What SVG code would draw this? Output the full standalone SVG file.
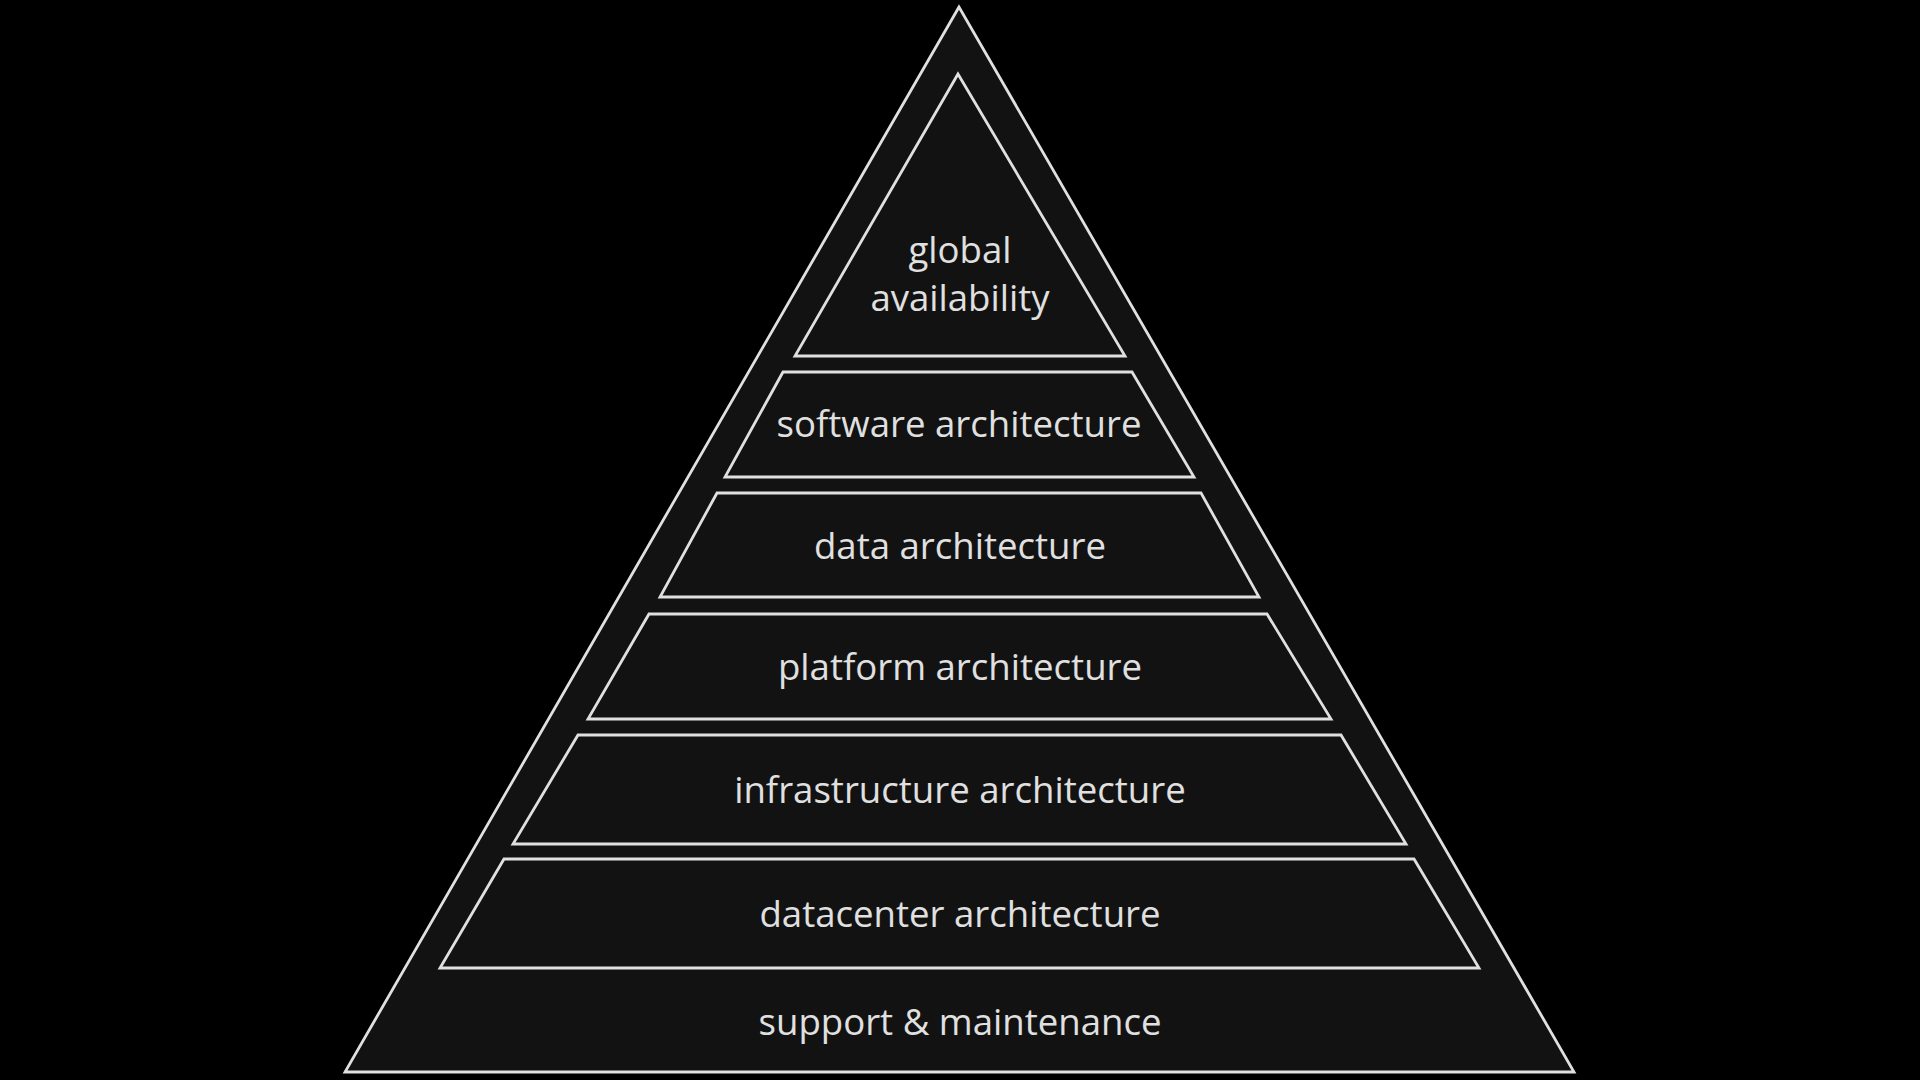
<svg xmlns="http://www.w3.org/2000/svg" width="1920" height="1080" viewBox="0 0 1920 1080">
<style>
.shape{fill:#121212;stroke:#e0e0e0;stroke-width:2.8;stroke-linejoin:miter}
.lbl{font-family:"Open Sans","Noto Sans",sans-serif;font-size:36.6px;fill:#e0e0e0;text-anchor:middle}
</style>
<rect width="1920" height="1080" fill="#000"/>
<g id="pyramid">
<polygon class="shape" points="959,7 345,1072 1574,1072"/>
</g>
<g id="connectors"/>
<g id="global-availability">
<polygon class="shape" points="958,74 795,356 1125,356"/>
<text class="lbl" x="960" y="263">global</text>
<text class="lbl" x="960" y="311">availability</text>
</g>
<g id="software-architecture">
<polygon class="shape" points="783,372 1132,372 1194,477 725,477"/>
<text class="lbl" x="959" y="437">software architecture</text>
</g>
<g id="data-architecture">
<polygon class="shape" points="717,493 1201,493 1259,597 660,597"/>
<text class="lbl" x="960" y="559">data architecture</text>
</g>
<g id="platform-architecture">
<polygon class="shape" points="649,614 1267,614 1331,719 588,719"/>
<text class="lbl" x="960" y="680">platform architecture</text>
</g>
<g id="infrastructure-architecture">
<polygon class="shape" points="578,735 1341,735 1406,844 513,844"/>
<text class="lbl" x="960" y="803">infrastructure architecture</text>
</g>
<g id="datacenter-architecture">
<polygon class="shape" points="504,859 1414,859 1479,968 440,968"/>
<text class="lbl" x="960" y="927">datacenter architecture</text>
</g>
<g id="support-maintenance">
<text class="lbl" x="960" y="1035">support &amp; maintenance</text>
</g>
</svg>
